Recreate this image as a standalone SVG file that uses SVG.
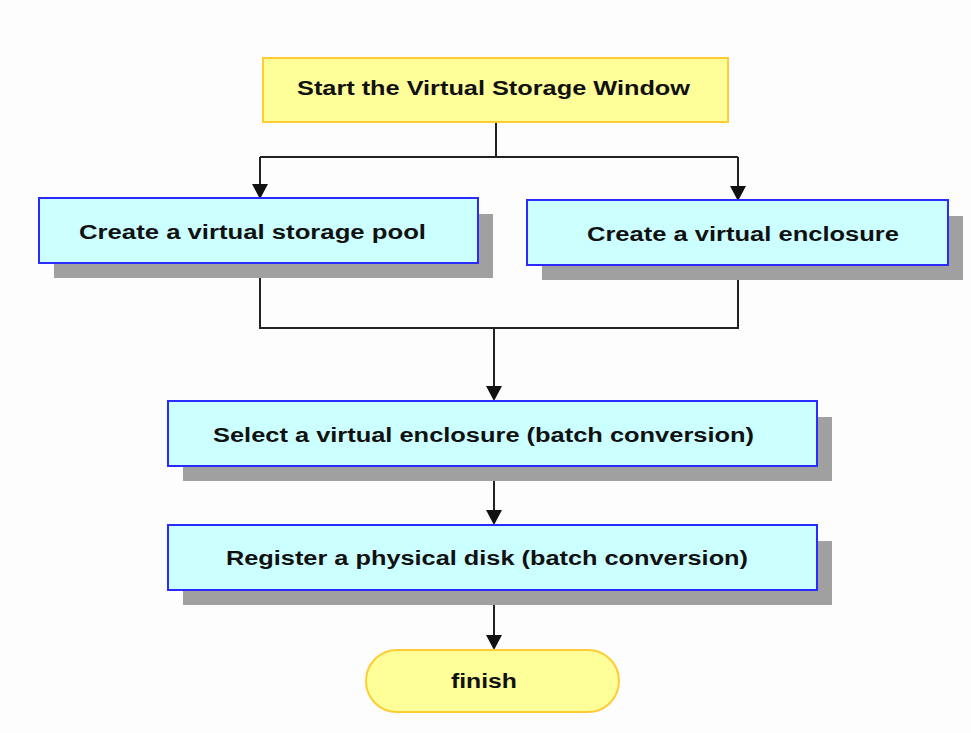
<svg xmlns="http://www.w3.org/2000/svg" width="971" height="733" viewBox="0 0 971 733">
<style>
.bg{fill:#fdfdfd}
.shadow{fill:#a0a0a0}
.proc{fill:#ccffff;stroke:#2b2bff;stroke-width:2}
.term{fill:#ffff99;stroke:#ffcc33;stroke-width:2}
.lbl{font-family:"Liberation Sans",Arial,sans-serif;font-weight:bold;font-size:20px;fill:#111}
.conn{fill:none;stroke:#222;stroke-width:2}
.head{fill:#111}
</style>
<rect class="bg" x="0" y="0" width="971" height="733"/>
<g id="connectors">
<path class="conn" d="M496,122 V157 M260,157 H738"/>
<path class="conn" d="M260,157 V184"/>
<path class="head" d="M252,184 L268,184 L260,199 Z"/>
<path class="conn" d="M738,157 V186"/>
<path class="head" d="M730,186 L746,186 L738,201 Z"/>
<path class="conn" d="M260,264 V328 H738 V266"/>
<path class="conn" d="M494,328 V386"/>
<path class="head" d="M486,386 L502,386 L494,401 Z"/>
<path class="conn" d="M494,466 V510"/>
<path class="head" d="M486,510 L502,510 L494,525 Z"/>
<path class="conn" d="M494,590 V635"/>
<path class="head" d="M486,635 L502,635 L494,650 Z"/>
</g>
<g id="start">
<rect class="term" x="263" y="58" width="465" height="64"/>
<text class="lbl" x="297" y="95" textLength="393" lengthAdjust="spacingAndGlyphs">Start the Virtual Storage Window</text>
</g>
<g id="pool">
<rect class="shadow" x="54" y="214" width="439" height="64"/>
<rect class="proc" x="39" y="198" width="439" height="65"/>
<text class="lbl" x="79" y="239" textLength="347" lengthAdjust="spacingAndGlyphs">Create a virtual storage pool</text>
</g>
<g id="enclosure">
<rect class="shadow" x="542" y="216" width="421" height="64"/>
<rect class="proc" x="527" y="200" width="421" height="65"/>
<text class="lbl" x="587" y="241" textLength="312" lengthAdjust="spacingAndGlyphs">Create a virtual enclosure</text>
</g>
<g id="select">
<rect class="shadow" x="183" y="417" width="649" height="64"/>
<rect class="proc" x="168" y="401" width="649" height="65"/>
<text class="lbl" x="213" y="442" textLength="541" lengthAdjust="spacingAndGlyphs">Select a virtual enclosure (batch conversion)</text>
</g>
<g id="register">
<rect class="shadow" x="183" y="541" width="649" height="64"/>
<rect class="proc" x="168" y="525" width="649" height="65"/>
<text class="lbl" x="226" y="565" textLength="522" lengthAdjust="spacingAndGlyphs">Register a physical disk (batch conversion)</text>
</g>
<g id="finish">
<rect class="term" x="366" y="650" width="253" height="62" rx="31" ry="31"/>
<text class="lbl" x="451" y="688" textLength="66" lengthAdjust="spacingAndGlyphs">finish</text>
</g>
</svg>
